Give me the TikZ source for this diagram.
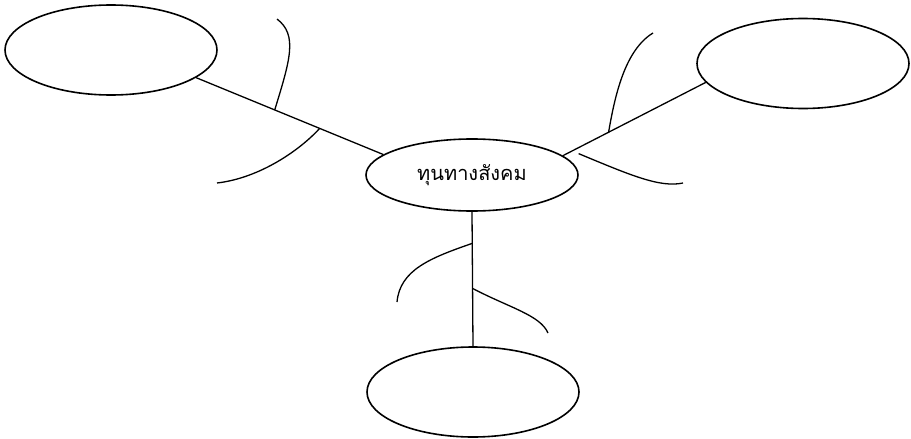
\documentclass[tikz,border=0pt]{standalone}
\usepackage{fontspec}
\newfontfamily\thaifont[Script=Thai]{Loma}
\usepackage{tikz}
\usetikzlibrary{shapes.geometric,positioning,calc}

\begin{document}
\begin{tikzpicture}[
    x=1pt, y=-1pt,
    bubble/.style={draw, ellipse, line width=1.6pt, minimum width=212pt, minimum height=90pt, inner sep=0pt},
    hub/.style={bubble, minimum height=72pt, font=\thaifont\fontsize{20}{24}\selectfont},
    link/.style={line width=1.3pt},
    twig/.style={line width=1.3pt},
]
    \useasboundingbox (0,0) rectangle (911,439);

    \node[hub] (soc) at (472,175) {ทุนทางสังคม};
    \node[bubble] (tl) at (111,50) {};
    \node[bubble] (tr) at (803,63.5) {};
    \node[bubble] (bot) at (473,392) {};

    \draw[link] (tl.342) -- (soc.167) coordinate[pos=0.42] (l1) coordinate[pos=0.66] (l2);
    \draw[link] (tr.191) -- (soc.12) coordinate[pos=0.68] (r1) coordinate[pos=0.89] (r2);
    \draw[link] (soc.south) -- (bot.north) coordinate[pos=0.235] (b1) coordinate[pos=0.57] (b2);

    % side branches
    \draw[twig] (l1) .. controls (290,60) and (298,35) .. (277,19);
    \draw[twig] (l2) .. controls (300,150) and (260,178) .. (217,183);
    \draw[twig] (r1) .. controls (615,95) and (625,50) .. (653,33);
    \draw[twig] ([yshift=-6pt]r2) .. controls (630,175) and (660,188) .. (683,183);
    \draw[twig] (b1) .. controls (430,258) and (400,270) .. (397,302);
    \draw[twig] (b2) .. controls (510,308) and (540,315) .. (548,333);
\end{tikzpicture}
\end{document}
